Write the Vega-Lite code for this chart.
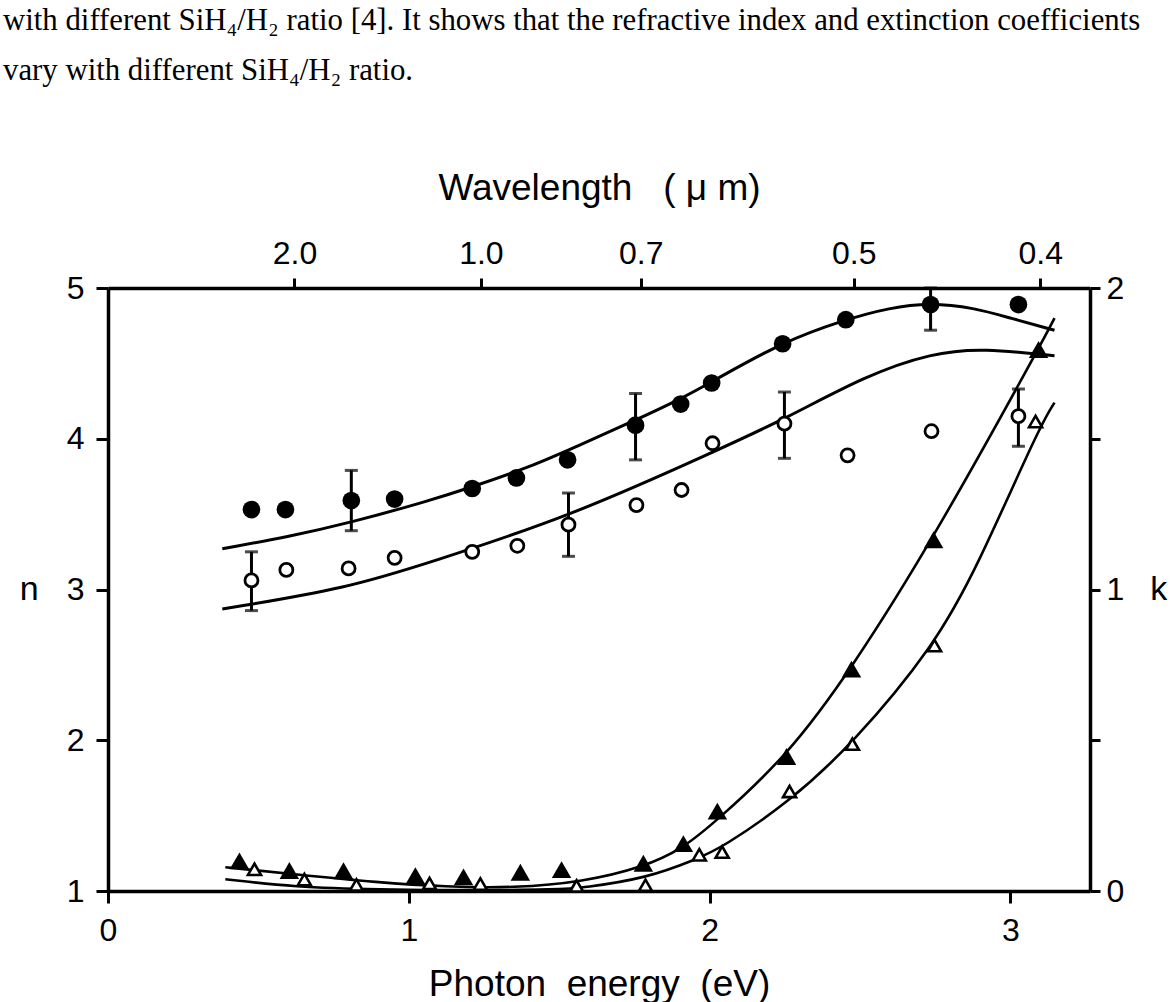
{
  "$schema": "https://vega.github.io/schema/vega-lite/v6.json",
  "width": 982,
  "height": 603,
  "autosize": {"type": "none"},
  "padding": {"left": 108, "top": 288, "right": 85, "bottom": 111},
  "background": "white",
  "title": {
    "text": [
      "with different SiH₄/H₂ ratio [4]. It shows that the refractive index and extinction coefficients",
      "vary with different SiH₄/H₂ ratio."
    ],
    "anchor": "start",
    "frame": "group",
    "dx": -105,
    "offset": 82,
    "font": "Liberation Serif",
    "fontSize": 30.8,
    "fontWeight": "normal",
    "color": "black",
    "lineHeight": 50
  },
  "config": {
    "view": {"stroke": null},
    "axis": {
      "grid": false,
      "domainColor": "black",
      "domainWidth": 3.5,
      "tickColor": "black",
      "tickWidth": 3,
      "labelFont": "Liberation Sans",
      "labelFontSize": 32,
      "labelColor": "black",
      "labelFlush": false,
      "labelOverlap": false,
      "titleFont": "Liberation Sans",
      "titleFontSize": 37,
      "titleFontWeight": "normal",
      "titleColor": "black"
    }
  },
  "datasets": {
    "n_points": [
      {"E": 0.477, "n": 3.53, "film": "A"},
      {"E": 0.590, "n": 3.53, "film": "A"},
      {"E": 0.809, "n": 3.59, "film": "A"},
      {"E": 0.953, "n": 3.60, "film": "A"},
      {"E": 1.211, "n": 3.67, "film": "A"},
      {"E": 1.358, "n": 3.74, "film": "A"},
      {"E": 1.528, "n": 3.86, "film": "A"},
      {"E": 1.754, "n": 4.09, "film": "A"},
      {"E": 1.904, "n": 4.23, "film": "A"},
      {"E": 2.007, "n": 4.37, "film": "A"},
      {"E": 2.243, "n": 4.63, "film": "A"},
      {"E": 2.453, "n": 4.79, "film": "A"},
      {"E": 2.735, "n": 4.89, "film": "A"},
      {"E": 3.027, "n": 4.89, "film": "A"},
      {"E": 0.477, "n": 3.06, "film": "B"},
      {"E": 0.593, "n": 3.13, "film": "B"},
      {"E": 0.800, "n": 3.14, "film": "B"},
      {"E": 0.953, "n": 3.21, "film": "B"},
      {"E": 1.211, "n": 3.25, "film": "B"},
      {"E": 1.361, "n": 3.29, "film": "B"},
      {"E": 1.531, "n": 3.43, "film": "B"},
      {"E": 1.757, "n": 3.56, "film": "B"},
      {"E": 1.907, "n": 3.66, "film": "B"},
      {"E": 2.010, "n": 3.97, "film": "B"},
      {"E": 2.249, "n": 4.10, "film": "B"},
      {"E": 2.459, "n": 3.89, "film": "B"},
      {"E": 2.738, "n": 4.05, "film": "B"},
      {"E": 3.027, "n": 4.15, "film": "B"}
    ],
    "n_errors": [
      {"E": 0.809, "lo": 3.39, "hi": 3.79, "film": "A"},
      {"E": 1.754, "lo": 3.86, "hi": 4.30, "film": "A"},
      {"E": 2.735, "lo": 4.72, "hi": 5.00, "film": "A"},
      {"E": 0.477, "lo": 2.86, "hi": 3.25, "film": "B"},
      {"E": 1.531, "lo": 3.22, "hi": 3.64, "film": "B"},
      {"E": 2.249, "lo": 3.87, "hi": 4.31, "film": "B"},
      {"E": 3.027, "lo": 3.95, "hi": 4.33, "film": "B"}
    ],
    "n_fit": [
      {"E": 0.38, "n": 3.27, "film": "A"},
      {"E": 0.60, "n": 3.35, "film": "A"},
      {"E": 0.80, "n": 3.44, "film": "A"},
      {"E": 1.07, "n": 3.59, "film": "A"},
      {"E": 1.21, "n": 3.68, "film": "A"},
      {"E": 1.40, "n": 3.81, "film": "A"},
      {"E": 1.57, "n": 3.96, "film": "A"},
      {"E": 1.75, "n": 4.12, "film": "A"},
      {"E": 1.90, "n": 4.26, "film": "A"},
      {"E": 2.01, "n": 4.38, "film": "A"},
      {"E": 2.24, "n": 4.64, "film": "A"},
      {"E": 2.45, "n": 4.79, "film": "A"},
      {"E": 2.60, "n": 4.87, "film": "A"},
      {"E": 2.73, "n": 4.90, "film": "A"},
      {"E": 2.88, "n": 4.87, "film": "A"},
      {"E": 3.00, "n": 4.80, "film": "A"},
      {"E": 3.147, "n": 4.72, "film": "A"},
      {"E": 0.38, "n": 2.87, "film": "B"},
      {"E": 0.80, "n": 3.01, "film": "B"},
      {"E": 1.07, "n": 3.18, "film": "B"},
      {"E": 1.53, "n": 3.48, "film": "B"},
      {"E": 2.01, "n": 3.91, "film": "B"},
      {"E": 2.25, "n": 4.13, "film": "B"},
      {"E": 2.52, "n": 4.42, "film": "B"},
      {"E": 2.74, "n": 4.57, "film": "B"},
      {"E": 2.91, "n": 4.60, "film": "B"},
      {"E": 3.147, "n": 4.55, "film": "B"}
    ],
    "k_points": [
      {"E": 0.437, "k": 0.100, "film": "A"},
      {"E": 0.603, "k": 0.068, "film": "A"},
      {"E": 0.783, "k": 0.067, "film": "A"},
      {"E": 1.022, "k": 0.051, "film": "A"},
      {"E": 1.182, "k": 0.047, "film": "A"},
      {"E": 1.371, "k": 0.062, "film": "A"},
      {"E": 1.508, "k": 0.071, "film": "A"},
      {"E": 1.780, "k": 0.092, "film": "A"},
      {"E": 1.913, "k": 0.157, "film": "A"},
      {"E": 2.026, "k": 0.265, "film": "A"},
      {"E": 2.256, "k": 0.446, "film": "A"},
      {"E": 2.472, "k": 0.736, "film": "A"},
      {"E": 2.745, "k": 1.165, "film": "A"},
      {"E": 3.094, "k": 1.796, "film": "A"},
      {"E": 0.487, "k": 0.072, "film": "B"},
      {"E": 0.653, "k": 0.038, "film": "B"},
      {"E": 0.826, "k": 0.020, "film": "B"},
      {"E": 1.069, "k": 0.025, "film": "B"},
      {"E": 1.238, "k": 0.023, "film": "B"},
      {"E": 1.558, "k": 0.017, "film": "B"},
      {"E": 1.787, "k": 0.019, "film": "B"},
      {"E": 1.966, "k": 0.120, "film": "B"},
      {"E": 2.042, "k": 0.129, "film": "B"},
      {"E": 2.266, "k": 0.330, "film": "B"},
      {"E": 2.475, "k": 0.487, "film": "B"},
      {"E": 2.748, "k": 0.814, "film": "B"},
      {"E": 3.084, "k": 1.557, "film": "B"}
    ],
    "k_fit": [
      {"E": 0.39, "k": 0.079, "film": "A"},
      {"E": 0.62, "k": 0.055, "film": "A"},
      {"E": 0.90, "k": 0.028, "film": "A"},
      {"E": 1.12, "k": 0.014, "film": "A"},
      {"E": 1.35, "k": 0.010, "film": "A"},
      {"E": 1.58, "k": 0.030, "film": "A"},
      {"E": 1.78, "k": 0.079, "film": "A"},
      {"E": 1.91, "k": 0.140, "film": "A"},
      {"E": 2.02, "k": 0.230, "film": "A"},
      {"E": 2.256, "k": 0.445, "film": "A"},
      {"E": 2.472, "k": 0.736, "film": "A"},
      {"E": 2.745, "k": 1.170, "film": "A"},
      {"E": 3.095, "k": 1.800, "film": "A"},
      {"E": 3.147, "k": 1.900, "film": "A"},
      {"E": 0.39, "k": 0.039, "film": "B"},
      {"E": 0.62, "k": 0.013, "film": "B"},
      {"E": 0.90, "k": 0.005, "film": "B"},
      {"E": 1.20, "k": 0.002, "film": "B"},
      {"E": 1.50, "k": 0.005, "film": "B"},
      {"E": 1.58, "k": 0.011, "film": "B"},
      {"E": 1.79, "k": 0.042, "film": "B"},
      {"E": 1.96, "k": 0.107, "film": "B"},
      {"E": 2.04, "k": 0.143, "film": "B"},
      {"E": 2.266, "k": 0.296, "film": "B"},
      {"E": 2.475, "k": 0.487, "film": "B"},
      {"E": 2.748, "k": 0.814, "film": "B"},
      {"E": 2.888, "k": 1.070, "film": "B"},
      {"E": 3.097, "k": 1.540, "film": "B"},
      {"E": 3.147, "k": 1.620, "film": "B"}
    ]
  },
  "layer": [
    {
      "encoding": {
        "x": {
          "field": "E",
          "type": "quantitative",
          "scale": {"domain": [0, 3.265], "nice": false, "zero": false},
          "axis": {
            "orient": "bottom",
            "values": [0, 1, 2, 3],
            "format": "d",
            "tickSize": 12,
            "labelPadding": 12,
            "title": "Photon\u00a0\u00a0energy\u00a0\u00a0(eV)",
            "titlePadding": 20
          }
        }
      },
      "layer": [
        {
          "data": {"name": "n_fit"},
          "mark": {"type": "line", "interpolate": "basis", "color": "black", "strokeWidth": 3},
          "encoding": {
            "y": {
              "field": "n",
              "type": "quantitative",
              "title": "n",
              "scale": {"domain": [1, 5], "nice": false, "zero": false},
              "axis": {
                "orient": "left",
                "values": [1, 2, 3, 4, 5],
                "format": "d",
                "tickSize": 12,
                "labelPadding": 12,
                "titleFontSize": 34,
                "titleAngle": 0,
                "titleAlign": "right",
                "titleBaseline": "middle",
                "titlePadding": 28
              }
            },
            "detail": {"field": "film"}
          }
        },
        {
          "data": {"name": "n_errors"},
          "mark": {"type": "errorbar", "ticks": {"size": 13}, "thickness": 3, "color": "black"},
          "encoding": {
            "y": {"field": "lo", "type": "quantitative", "title": "n", "scale": {"domain": [1, 5], "nice": false, "zero": false}},
            "y2": {"field": "hi"}
          }
        },
        {
          "data": {"name": "n_points"},
          "transform": [{"filter": "datum.film === 'A'"}],
          "mark": {"type": "point", "shape": "circle", "filled": true, "color": "black", "size": 313, "opacity": 1},
          "encoding": {
            "y": {"field": "n", "type": "quantitative", "title": "n", "scale": {"domain": [1, 5], "nice": false, "zero": false}}
          }
        },
        {
          "data": {"name": "n_points"},
          "transform": [{"filter": "datum.film === 'B'"}],
          "mark": {"type": "point", "shape": "circle", "fill": "white", "stroke": "black", "strokeWidth": 2.8, "size": 169, "opacity": 1, "fillOpacity": 1},
          "encoding": {
            "y": {"field": "n", "type": "quantitative", "title": "n", "scale": {"domain": [1, 5], "nice": false, "zero": false}}
          }
        }
      ]
    },
    {
      "encoding": {
        "x": {
          "field": "E",
          "type": "quantitative",
          "scale": {"domain": [0, 3.265], "nice": false, "zero": false},
          "axis": {
            "orient": "top",
            "values": [0.6199, 1.2398, 1.7711, 2.4796, 3.0995],
            "labelExpr": "format(1.2398 / datum.value, '.1f')",
            "tickSize": 10,
            "labelPadding": 8,
            "title": "Wavelength\u00a0\u00a0\u00a0(\u00a0μ\u00a0m)",
            "titlePadding": 30
          }
        }
      },
      "layer": [
        {
          "data": {"name": "k_fit"},
          "mark": {"type": "line", "interpolate": "basis", "color": "black", "strokeWidth": 2.6},
          "encoding": {
            "y": {
              "field": "k",
              "type": "quantitative",
              "title": "k",
              "scale": {"domain": [0, 2], "nice": false, "zero": false},
              "axis": {
                "orient": "right",
                "values": [0, 0.5, 1, 1.5, 2],
                "labelExpr": "datum.value % 1 === 0 ? format(datum.value, 'd') : ''",
                "tickSize": 10,
                "labelPadding": 6,
                "titleFontSize": 34,
                "titleAngle": 0,
                "titleAlign": "left",
                "titleBaseline": "middle",
                "titlePadding": 26
              }
            },
            "detail": {"field": "film"}
          }
        },
        {
          "data": {"name": "k_points"},
          "transform": [{"filter": "datum.film === 'A'"}],
          "mark": {"type": "point", "shape": "triangle-up", "filled": true, "color": "black", "size": 380, "opacity": 1},
          "encoding": {
            "y": {"field": "k", "type": "quantitative", "title": "k", "scale": {"domain": [0, 2], "nice": false, "zero": false}}
          }
        },
        {
          "data": {"name": "k_points"},
          "transform": [{"filter": "datum.film === 'B'"}],
          "mark": {"type": "point", "shape": "triangle-up", "fill": "white", "stroke": "black", "strokeWidth": 2.6, "size": 170, "opacity": 1, "fillOpacity": 1},
          "encoding": {
            "y": {"field": "k", "type": "quantitative", "title": "k", "scale": {"domain": [0, 2], "nice": false, "zero": false}}
          }
        }
      ]
    }
  ],
  "resolve": {"scale": {"y": "independent"}, "axis": {"x": "independent"}}
}
